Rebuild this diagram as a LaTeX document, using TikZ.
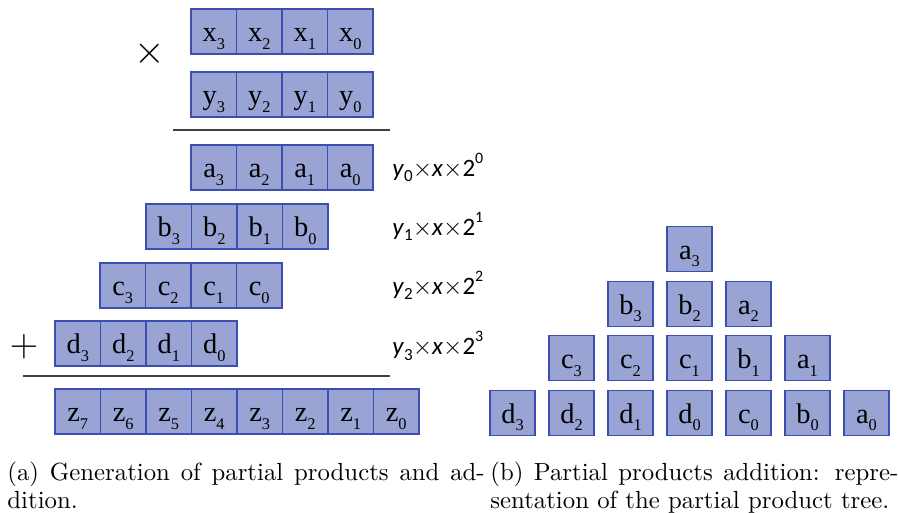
\documentclass[tikz,border=0pt]{standalone}
\usepackage{fontspec}
\newfontfamily\cellfont{Liberation Serif}
\newfontfamily\lblfont{Carlito}
\usetikzlibrary{positioning}
\definecolor{cellfill}{RGB}{153,163,212}
\definecolor{celldraw}{RGB}{60,78,176}
\definecolor{rulegray}{RGB}{64,64,64}
\newcommand{\bitlab}[2]{\raisebox{-4.6pt}[0pt][0pt]{#1\raisebox{-0.55ex}{\fontsize{7.2}{8}\selectfont #2}}}
\newcommand{\pplab}[1]{\textit{y}\raisebox{-0.45ex}{\fontsize{7.5}{8}\selectfont #1}$\times$\textit{x}$\times$2\raisebox{1.1ex}{\fontsize{7}{8}\selectfont #1}}

\begin{document}
\begin{tikzpicture}[x=0.44pt,y=-0.44pt,
  cell/.style={draw=celldraw,fill=cellfill,line width=0.5pt,inner sep=0pt,
    minimum width=20pt,minimum height=19.8pt,font=\cellfont\fontsize{12.5}{12.5}\selectfont},
  tcell/.style={cell,minimum width=19.8pt},
  rule/.style={draw=rulegray,line width=0.8pt},
  sym/.style={inner sep=0pt},
  pplbl/.style={anchor=west,inner sep=0pt,font=\lblfont\fontsize{11}{11}\selectfont},
  capt/.style={anchor=north west,inner sep=0pt,align=justify,font=\fontsize{10.9}{12.6}\selectfont}]
\useasboundingbox (0,0) rectangle (898,513);

% (a) partial products and addition
\foreach \r/\sx/\cy in {x/191/31.5, y/191/94.5, a/191/167.5, b/146/226.5, c/100/285.5, d/55/343.5}
  \foreach \i in {3,2,1,0}
    \node[cell] (\r\i) at ({\sx+22.75+45.5*(3-\i)},\cy) {\bitlab{\r}{\i}};
\foreach \i in {7,6,...,0}
  \node[cell] (z\i) at ({55+22.75+45.5*(7-\i)},411.5) {\bitlab{z}{\i}};

\node[sym,font=\fontsize{19}{19}\selectfont] (times) at (150,54) {$\times$};
\node[sym,font=\fontsize{16}{16}\selectfont] (plus) at (24,347) {$+$};
\draw[rule] (173,130) -- (390,130);
\draw[rule] (23,376) -- (390,376);

\foreach \i/\cy in {0/167.5, 1/226.5, 2/285.5, 3/346}
  \node[pplbl] (pp\i) at (392,\cy) {\pplab{\i}};

% (b) partial product tree
\foreach \lab/\col/\row in {a3/3/0, b3/2/1, b2/3/1, a2/4/1,
    c3/1/2, c2/2/2, c1/3/2, b1/4/2, a1/5/2,
    d3/0/3, d2/1/3, d1/2/3, d0/3/3, c0/4/3, b0/5/3, a0/6/3}
  \node[tcell] (t\lab) at ({512.5+59*\col},{249+54.7*\row}) {\expandafter\bitlab\lab};

% captions
\node[capt,text width=210pt] (capa) at (7,461) {(a) Generation of partial products and ad-\linebreak dition.};
\node[capt,text width=179.5pt] (capb) at (490,461) {(b) Partial products addition: repre-\linebreak sentation of the partial product tree.};
\end{tikzpicture}
\end{document}
